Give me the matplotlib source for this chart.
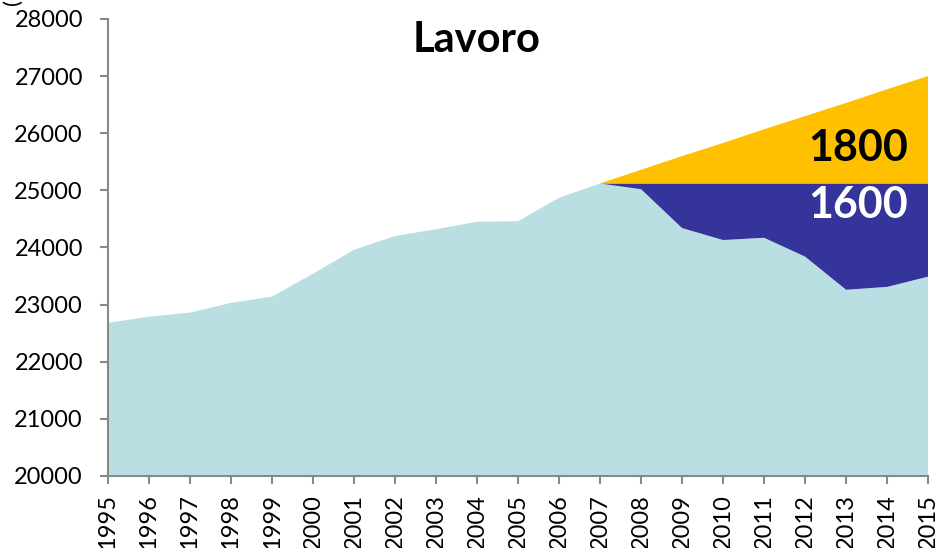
import matplotlib.pyplot as plt
import numpy as np

years = np.arange(1995, 2016)
lavoro = [22680, 22790, 22860, 23030, 23140, 23540, 23960, 24200, 24320, 24450,
          24460, 24870, 25120, 25020, 24340, 24130, 24170, 23840, 23260, 23310, 23490]
# livello pre-crisi (2007) e tendenza proiettata
livello07 = [22680, 22790, 22860, 23030, 23140, 23540, 23960, 24200, 24320, 24450,
             24460, 24870, 25120, 25120, 25120, 25120, 25120, 25120, 25120, 25120, 25120]
tendenza = [22680, 22790, 22860, 23030, 23140, 23540, 23960, 24200, 24320, 24450,
            24460, 24870, 25120, 25360, 25600, 25830, 26070, 26300, 26530, 26770, 27000]

lavoro = np.array(lavoro)
gap = np.array(livello07) - lavoro
trend = np.array(tendenza) - np.array(livello07)

plt.rcParams['font.family'] = ['Lato', 'DejaVu Sans']

fig = plt.figure(figsize=(9.49, 5.48), dpi=100)
ax = fig.add_axes([0.1138, 0.1314, 0.8642, 0.834])

ax.stackplot(years, lavoro, gap, trend,
             colors=['#B9DFE3', '#35349A', '#FFC000'], linewidth=0)

ax.set_xlim(1995, 2015)
ax.set_ylim(20000, 28000)
ax.set_xticks(years)
ax.set_xticklabels([str(y) for y in years], rotation=90, fontsize=17)
ax.set_yticks(np.arange(20000, 28001, 1000))
ax.tick_params(axis='y', labelsize=17, color='#888888', length=6, width=1.5, direction='out', pad=12)
ax.tick_params(axis='x', color='#888888', length=6, width=1.5, direction='out', pad=7)
for s in ['top', 'right']:
    ax.spines[s].set_visible(False)
for s in ['left', 'bottom']:
    ax.spines[s].set_color('#888888')
    ax.spines[s].set_linewidth(1.5)

ax.text(2004.0, 27630, 'Lavoro', fontsize=30, fontweight='bold', ha='center', va='center')
ax.text(2014.5, 25740, '1800', fontsize=31, fontweight='bold', ha='right', va='center', color='black')
ax.text(2014.5, 24740, '1600', fontsize=31, fontweight='bold', ha='right', va='center', color='white')

fig.text(0.014, 0.99, '(2', rotation=90, fontsize=16, ha='center', va='bottom')

plt.savefig('out.png', dpi=100)
